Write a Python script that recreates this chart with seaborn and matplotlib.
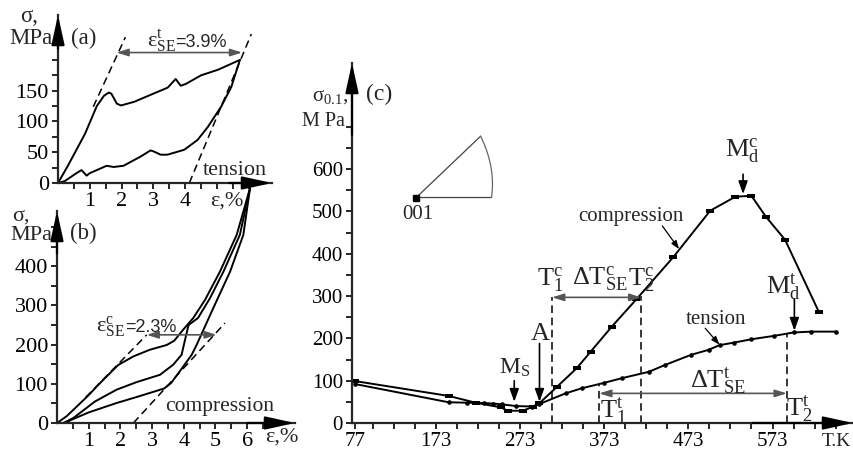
import numpy as np
import pandas as pd
import matplotlib
matplotlib.use("Agg")
import matplotlib.pyplot as plt
import seaborn as sns

# ---------------- data ----------------
# (a) tension loop: strain, % / stress, MPa
a_load_eps = [0, 0.3, 0.85, 1.22, 1.45, 1.6, 1.68, 1.85, 1.98, 2.4, 2.9, 3.45, 3.7, 3.86, 4.02, 4.5, 5.03, 5.72]
a_load_sig = [0, 27, 80, 125, 142, 147, 145, 129, 126, 132, 143, 155, 169, 158, 161, 175, 184, 200]
a_unl_eps = [5.72, 5.45, 5.13, 4.71, 4.39, 3.97, 3.44, 3.23, 3.02, 2.91, 2.6, 2.06, 1.75, 1.53, 1.0, 0.9, 0.74, 0.58, 0.21, 0]
a_unl_sig = [200, 156, 124, 91, 70, 54, 46, 46, 51, 53, 43, 28, 26, 28, 16, 12, 21, 16, 3, 0]
a_dash1 = ([1.11, 2.12], [124, 237])
a_dash2 = ([4.13, 6.08], [0, 242])
a_se = (1.84, 5.79, 212)          # eps_SE^t arrow: from, to, level

# (b) compression loops
b_load_eps = [0, 0.3, 0.96, 1.36, 1.93, 2.41, 2.93, 3.46, 3.7, 3.98, 4.3, 4.67, 5.14, 5.67, 6.09]
b_load_sig = [0, 17, 68, 102, 148, 170, 187, 199, 210, 238, 268, 314, 386, 480, 599]
b_small_eps = [4.15, 3.93, 3.67, 3.25, 2.5, 1.88, 1.2, 0.52, 0.2]
b_small_sig = [250, 174, 149, 123, 104, 85, 55, 13, 0]
b_reload_eps = [4.15, 4.45, 4.83, 5.25, 5.77, 6.09]
b_reload_sig = [250, 268, 319, 386, 480, 599]
b_unl_eps = [6.09, 5.88, 5.46, 4.93, 4.41, 4.25, 3.91, 3.6, 3.38, 2.5, 1.88, 1.0, 0.45, 0.25]
b_unl_sig = [599, 480, 386, 293, 200, 174, 136, 102, 88, 66, 51, 27, 8, 0]
b_dash1 = ([0.9, 2.83], [65, 225])
b_dash2 = ([2.41, 5.3], [0, 255])
b_se = (2.83, 5.04, 225)

# (c) yield stress vs temperature
comp_T = [77, 188, 220, 250, 258, 276, 288, 296, 317, 340, 357, 382, 411, 455, 499, 529, 548, 565, 588, 628]
comp_s = [99, 64, 48, 37, 29, 29, 38, 47, 86, 129, 169, 228, 292, 392, 502, 535, 537, 488, 433, 263]
tens_T = [77, 188, 210, 230, 241, 252, 268, 287, 296, 327, 346, 373, 394, 426, 445, 476, 497, 510, 527, 548, 575, 598, 619, 649]
tens_s = [92, 49, 48, 47, 46, 44, 40, 39, 45, 70, 82, 95, 106, 121, 137, 161, 173, 184, 190, 198, 206, 214, 216, 216]
T_ticks = [77, 173, 273, 373, 473, 573]
Ms_T, Af_T = 266, 296
Mdc_T, Mdt_T = 538, 599
T1c, T2c, Tc_level = 311, 417, 297
T1t, T2t, Tt_level = 367, 590, 70

# ---------------- figure ----------------
sns.set_style("ticks")
plt.rcParams["font.family"] = ["Liberation Serif", "DejaVu Serif"]
plt.rcParams["mathtext.default"] = "regular"

W, H = 854, 454
fig = plt.figure(figsize=(W / 100, H / 100), dpi=100)


def box(l, t, r, b):
    return [l / W, 1 - b / H, (r - l) / W, (b - t) / H]


def ftext(x, y, s, **kw):
    fig.text(x / W, 1 - y / H, s, ha="center", va="center", **kw)


def frame(ax, xlim, ylim, xmaj, xmin, ymaj, ymin, fs, xlabels=None):
    ax.set_xlim(xlim)
    ax.set_ylim(ylim)
    sns.despine(ax=ax)
    for s in ("left", "bottom"):
        ax.spines[s].set_linewidth(1.6)
    ax.set_xticks(xmaj)
    ax.set_xticklabels(xlabels if xlabels else [str(v) for v in xmaj])
    ax.set_xticks(xmin, minor=True)
    ax.set_yticks(ymaj)
    ax.set_yticklabels([str(v) for v in ymaj])
    ax.set_yticks(ymin, minor=True)
    ax.tick_params(which="both", direction="out", length=4.5, width=1.2,
                   labelsize=fs, pad=2, colors="k")
    kw = dict(arrowstyle="-|>,head_length=1.5,head_width=0.33", color="k", lw=1.6,
              mutation_scale=12, shrinkA=0, shrinkB=0)
    ax.annotate("", xy=(1, 0), xytext=(0.8, 0), xycoords="axes fraction",
                arrowprops=kw, annotation_clip=False)
    ax.annotate("", xy=(0, 1), xytext=(0, 0.8), xycoords="axes fraction",
                arrowprops=kw, annotation_clip=False)
    ax.set_xlabel("")
    ax.set_ylabel("")


def curve(ax, x, y, **kw):
    sns.lineplot(x=x, y=y, ax=ax, sort=False, estimator=None, color="k", lw=1.4, **kw)


def dashed(ax, xs, ys):
    ax.plot(xs, ys, color="k", lw=1.1, ls=(0, (5, 3)))


def darrow(ax, x0, x1, y):
    ax.annotate("", xy=(x1, y), xytext=(x0, y),
                arrowprops=dict(arrowstyle="<|-|>,head_length=0.7,head_width=0.22",
                                color="#555555", lw=1.2, mutation_scale=10,
                                shrinkA=0, shrinkB=0))


def down(ax, x, y0, y1):
    ax.annotate("", xy=(x, y1), xytext=(x, y0),
                arrowprops=dict(arrowstyle="-|>,head_length=0.7,head_width=0.25",
                                color="k", lw=1.2, mutation_scale=11,
                                shrinkA=0, shrinkB=0))


# ---- (a)
axA = fig.add_axes(box(58, 15, 272, 183))
curve(axA, a_load_eps, a_load_sig)
curve(axA, a_unl_eps, a_unl_sig)
dashed(axA, *a_dash1)
dashed(axA, *a_dash2)
darrow(axA, a_se[0], a_se[1], a_se[2])
axA.text(3.69, 221, r"$ε^{t}_{SE}$", ha="right", va="baseline", fontsize=16)
axA.text(3.69, 221, "=3.9%", ha="left", va="baseline", fontsize=13, family="Liberation Sans")
axA.text(5.55, 21, "tension", ha="center", va="center", fontsize=16)
frame(axA, (0, 6.73), (0, 273), [1, 2, 3, 4], np.arange(0.5, 6.01, 0.5),
      [0, 50, 100, 150], np.arange(25, 201, 25), 16)
ftext(29, 17, "σ,", fontsize=16.5)
ftext(31, 39, "MPa", fontsize=16.5)
ftext(84, 38, "(a)", fontsize=16.5)
ftext(227, 201, "ε,%", fontsize=16)

# ---- (b)
axB = fig.add_axes(box(57, 211, 295, 423))
curve(axB, b_load_eps, b_load_sig)
curve(axB, b_small_eps, b_small_sig)
curve(axB, b_reload_eps, b_reload_sig)
curve(axB, b_unl_eps, b_unl_sig)
for ln in axB.lines:
    ln.set_clip_on(False)
dashed(axB, *b_dash1)
dashed(axB, *b_dash2)
darrow(axB, b_se[0], b_se[1], b_se[2])
axB.text(2.15, 231, r"$ε^{c}_{SE}$", ha="right", va="baseline", fontsize=16)
axB.text(2.15, 231, "=2.3%", ha="left", va="baseline", fontsize=13, family="Liberation Sans")
axB.text(5.14, 43, "compression", ha="center", va="center", fontsize=15.5)
frame(axB, (0, 7.51), (0, 541), [1, 2, 3, 4, 5, 6], np.arange(0.5, 6.51, 0.5),
      [0, 100, 200, 300, 400], np.arange(50, 501, 50), 16)
ftext(21, 216, "σ,", fontsize=16)
ftext(31, 235, "MPa", fontsize=16)
ftext(83, 233, "(b)", fontsize=16.5)
ftext(282, 437, "ε,%", fontsize=16)

# ---- (c)
axC = fig.add_axes(box(352, 63, 853, 423))
bar = [(-1, -0.45), (1, -0.45), (1, 0.45), (-1, 0.45)]
curve(axC, comp_T, comp_s, marker=bar, markersize=5.5, markeredgewidth=0)
curve(axC, tens_T, tens_s, marker="o", markersize=3.3, markeredgewidth=0)

# stereographic triangle inset
p001, p111, p011 = (149.5, 533), (226, 678), (239, 533)
t = np.linspace(0, 1, 30)
arc_T = (1 - t) ** 2 * p111[0] + 2 * t * (1 - t) * 244 + t ** 2 * p011[0]
arc_s = (1 - t) ** 2 * p111[1] + 2 * t * (1 - t) * 605 + t ** 2 * p011[1]
axC.plot([p011[0], p001[0], p111[0]], [p011[1], p001[1], p111[1]], color="#444444", lw=0.9)
axC.plot(arc_T, arc_s, color="#666666", lw=0.9)
axC.plot([p001[0]], [p001[1]], marker="s", color="k", ms=4.5)
axC.text(151, 492, "001", ha="center", va="center", fontsize=15)

dashed(axC, [T1c, T1c], [0, Tc_level])
dashed(axC, [T2c, T2c], [0, Tc_level + 3])
dashed(axC, [T1t, T1t], [0, 92])
dashed(axC, [T2t, T2t], [0, 213])
darrow(axC, T1c, T2c, Tc_level)
darrow(axC, T1t, T2t, Tt_level)

down(axC, Ms_T, 100, 50)
down(axC, Af_T, 188, 50)
down(axC, Mdc_T, 588, 541)
down(axC, Mdt_T, 293, 218)

big = 19
axC.text(309, 326, r"$T^{c}_{1}$", ha="center", va="baseline", fontsize=big)
axC.text(368, 328, r"$ΔT^{c}_{SE}$", ha="center", va="baseline", fontsize=big)
axC.text(417, 326, r"$T^{c}_{2}$", ha="center", va="baseline", fontsize=big)
axC.text(537, 630, r"$M^{c}_{d}$", ha="center", va="baseline", fontsize=big)
axC.text(586, 305, r"$M^{t}_{d}$", ha="center", va="baseline", fontsize=big)
axC.text(297, 196, "A", ha="center", va="baseline", fontsize=big)
axC.text(266, 117, r"$M_{S}$", ha="center", va="baseline", fontsize=17)
axC.text(508, 85, r"$ΔT^{t}_{SE}$", ha="center", va="baseline", fontsize=big)
axC.text(368, 14, r"$T^{t}_{1}$", ha="left", va="baseline", fontsize=big)
axC.text(589, 17, r"$T^{t}_{2}$", ha="left", va="baseline", fontsize=big)

axC.text(405, 488, "compression", ha="center", va="center", fontsize=15)
axC.annotate("", xy=(462, 411), xytext=(442, 466),
             arrowprops=dict(arrowstyle="-|>,head_length=0.5,head_width=0.18",
                             color="k", lw=0.9, mutation_scale=10, shrinkA=0, shrinkB=0))
axC.text(506, 244, "tension", ha="center", va="center", fontsize=15)
axC.annotate("", xy=(510, 185), xytext=(493, 224),
             arrowprops=dict(arrowstyle="-|>,head_length=0.5,head_width=0.18",
                             color="k", lw=0.9, mutation_scale=10, shrinkA=0, shrinkB=0))

frame(axC, (73.1, 668.7), (0, 851), T_ticks,
      [v for v in range(98, 660, 25) if v not in T_ticks],
      [0, 100, 200, 300, 400, 500, 600], np.arange(50, 701, 50), 15)
ftext(330, 96, r"$σ_{0.1}$,", fontsize=15)
ftext(323, 122, "M Pa", fontsize=14.5)
ftext(379, 94, "(c)", fontsize=17)
fig.text(851 / W, 1 - 442 / H, "T.K", ha="right", va="center", fontsize=14)

fig.savefig("out.png", dpi=100, facecolor="white")
